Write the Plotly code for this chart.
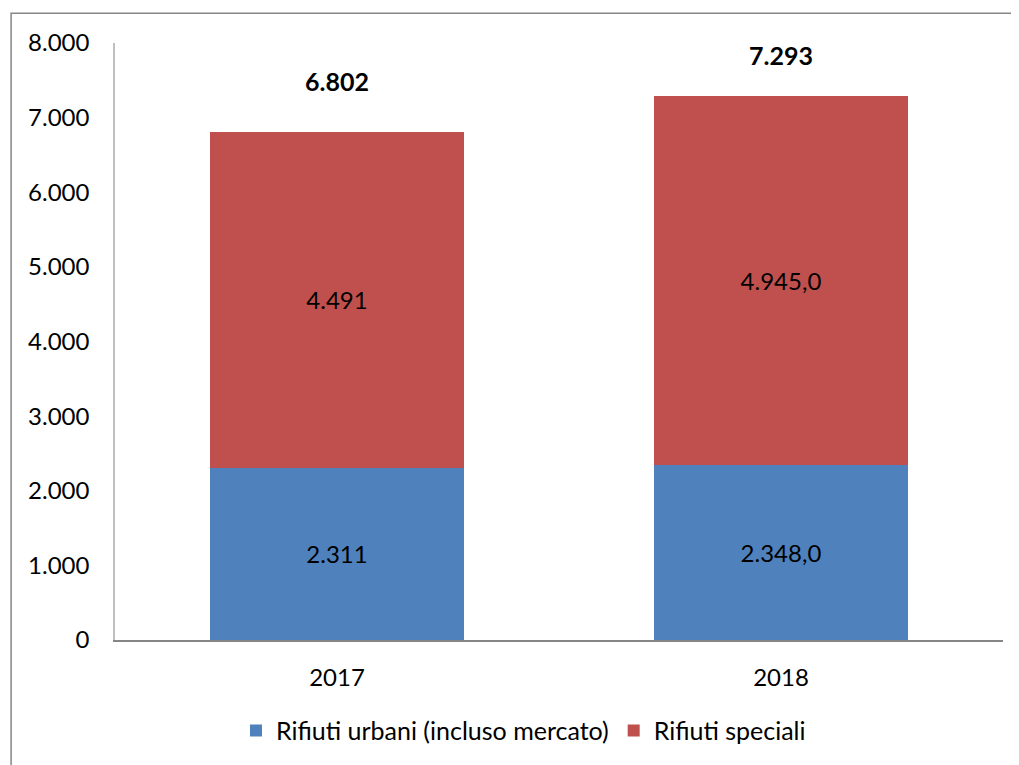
import plotly.graph_objects as go

years = ["2017", "2018"]
urbani = [2311, 2348]
speciali = [4491, 4945]
urbani_labels = ["2.311", "2.348,0"]
speciali_labels = ["4.491", "4.945,0"]
totali = [6802, 7293]
totali_labels = ["6.802", "7.293"]

FONT = "Lato, 'Open Sans', sans-serif"
FS = 24

fig = go.Figure()
fig.add_trace(go.Bar(x=years, y=urbani, name="Rifiuti urbani (incluso mercato)",
                     marker=dict(color="#4F81BD", line=dict(width=0)),
                     text=urbani_labels, textposition="inside", insidetextanchor="middle",
                     textangle=0,
                     textfont=dict(size=FS, color="black", family=FONT)))
fig.add_trace(go.Bar(x=years, y=speciali, name="Rifiuti speciali",
                     marker=dict(color="#C0504D", line=dict(width=0)),
                     text=speciali_labels, textposition="inside", insidetextanchor="middle",
                     textangle=0,
                     textfont=dict(size=FS, color="black", family=FONT)))

for i, (tot, lab, sh) in enumerate(zip(totali, totali_labels, [51, 41])):
    fig.add_annotation(x=i, y=tot, text="<b>" + lab + "</b>", showarrow=False,
                       yshift=sh, font=dict(size=25, color="black", family=FONT))

fig.add_shape(type="rect", xref="paper", yref="paper", x0=-0.117, x1=1.05, y0=-0.25, y1=1.05,
              line=dict(color="#868686", width=1.5), fillcolor="rgba(0,0,0,0)", layer="below")

fig.update_layout(
    width=1019, height=765,
    margin=dict(l=107, r=24, t=35, b=133),
    barmode="stack", bargap=0.428,
    separators=",.",
    plot_bgcolor="white", paper_bgcolor="white",
    font=dict(family=FONT, size=FS, color="black"),
    showlegend=True,
    legend=dict(orientation="h", x=0.46, xanchor="center", y=-0.152, yanchor="middle",
                font=dict(size=25, family=FONT), traceorder="normal"),
    xaxis=dict(type="category", range=[-0.5, 1.5], showline=True, linecolor="#868686",
               linewidth=1.5, ticks="outside", ticklen=15, tickcolor="white",
               showgrid=False, tickfont=dict(size=FS)),
    yaxis=dict(range=[0, 8000], dtick=1000, tickformat=",d", showline=True, linecolor="#BFBFBF",
               linewidth=1.5, showgrid=False, ticks="outside", ticklen=19, tickcolor="white",
               zeroline=False, tickfont=dict(size=FS)),
)

fig.write_html("out.html")
